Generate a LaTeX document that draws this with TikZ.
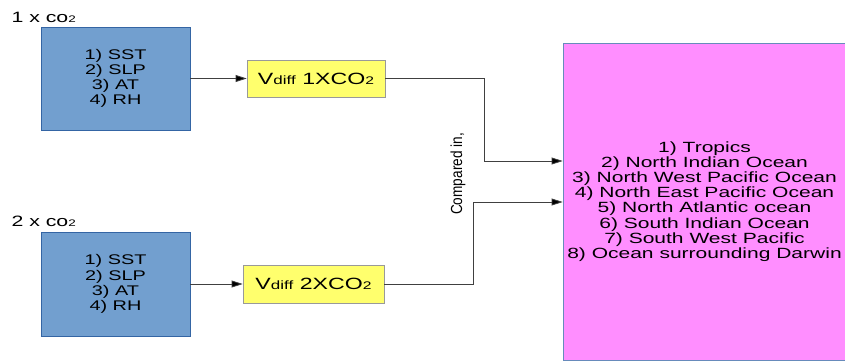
\documentclass[tikz,border=0pt]{standalone}
\usepackage{fontspec}
\setmainfont[FakeStretch=1.42]{Liberation Sans}
\newfontfamily\narrowfont[FakeStretch=0.85]{Liberation Sans}
\usetikzlibrary{arrows.meta}

\definecolor{boxblue}{HTML}{729FCF}
\definecolor{edgeblue}{HTML}{3465A4}
\definecolor{boxyellow}{HTML}{FFFF6D}
\definecolor{boxpink}{HTML}{FF8EFF}

\begin{document}
\begin{tikzpicture}[x=1pt,y=1pt,
	every node/.style={font=\fontsize{14}{15.2}\selectfont},
	varbox/.style={draw=edgeblue, fill=boxblue, line width=0.8pt, minimum width=149pt, minimum height=103pt, inner sep=0pt, align=center},
	diffbox/.style={draw=black!40, fill=boxyellow, line width=0.8pt, minimum height=37pt, inner sep=0pt},
	link/.style={draw=black!75, line width=0.8pt, -{Triangle[length=11pt,width=7pt,fill=black]}}]
	\useasboundingbox (0,0) rectangle (845,362);
	% input fields
	\node[anchor=west, font=\fontsize{15}{16}\selectfont] (lab1) at (8,345) {1 x co{\fontsize{9.5}{10}\selectfont 2}};
	\node[anchor=west, font=\fontsize{15}{16}\selectfont] (lab2) at (8,141) {2 x co{\fontsize{9.5}{10}\selectfont 2}};
	\node[varbox] (var1) at (115.5,283.5) {1) SST\\2) SLP\\3) AT\\4) RH};
	\node[varbox, minimum height=104pt] (var2) at (115.5,78) {1) SST\\2) SLP\\3) AT\\4) RH};
	% differences
	\node[diffbox, minimum width=138pt] (diff1) at (316,283.5) {{\fontsize{16.3}{18}\selectfont V}{\fontsize{12}{14}\selectfont diff}{\fontsize{16.3}{18}\selectfont\ 1XCO}{\fontsize{11}{12}\selectfont 2}};
	\node[diffbox, minimum width=141pt, minimum height=38pt] (diff2) at (313.5,78) {{\fontsize{16.3}{18}\selectfont V}{\fontsize{12}{14}\selectfont diff}{\fontsize{16.3}{18}\selectfont\ 2XCO}{\fontsize{11}{12}\selectfont 2}};
	% regions
	\node[draw=edgeblue!75, fill=boxpink, line width=0.8pt, minimum width=283pt, minimum height=317pt, inner sep=0pt, align=center, font=\fontsize{14.8}{15.2}\selectfont] (regions) at (704.5,160.5)
		{1) Tropics\\2) North Indian Ocean\\3) North West Pacific Ocean\\4) North East Pacific Ocean\\5) North Atlantic ocean\\6) South Indian Ocean\\7) South West Pacific\\8) Ocean surrounding Darwin};
	\node[rotate=90, font=\narrowfont\fontsize{16}{18}\selectfont] (cmp) at (458,188) {Compared in,};
	\coordinate (in1) at (regions.west |- 0,201);
	\coordinate (in2) at (regions.west |- 0,160);
	% connectors
	\draw[link] (var1.east) -- (diff1.west);
	\draw[link] (var2.east) -- (diff2.west);
	\draw[link] (diff1.east) -| (484,201) -- (in1);
	\draw[link] (diff2.east) -| (473,160) -- (in2);
\end{tikzpicture}
\end{document}
